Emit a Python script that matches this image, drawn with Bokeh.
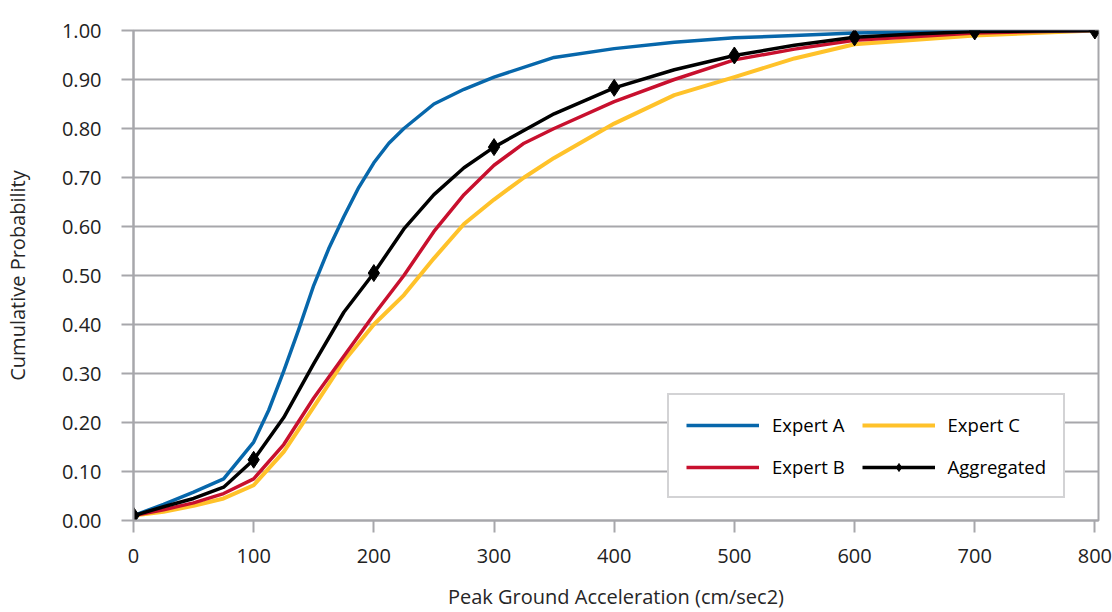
from bokeh.plotting import figure
from bokeh.models import Legend, LegendItem, FixedTicker, NumeralTickFormatter, Range1d
from bokeh.embed import file_html
from bokeh.resources import INLINE

# ---- data ----
expert_a_x = [0, 25, 50, 75, 100, 112.5, 125, 137.5, 150, 162.5, 175, 187.5, 200, 212.5, 225,
              250, 275, 300, 350, 400, 450, 500, 550, 600, 700, 800]
expert_a_y = [0.01, 0.033, 0.058, 0.085, 0.16, 0.225, 0.305, 0.39, 0.48, 0.555, 0.62, 0.68, 0.73, 0.77, 0.80,
              0.85, 0.88, 0.905, 0.945, 0.963, 0.976, 0.985, 0.99, 0.995, 0.999, 1.0]

expert_b_x = [0, 25, 50, 75, 100, 125, 150, 175, 200, 225, 250, 275, 300, 325, 350, 400, 450, 500, 550, 600, 700, 800]
expert_b_y = [0.01, 0.022, 0.036, 0.055, 0.085, 0.155, 0.25, 0.335, 0.42, 0.50, 0.59, 0.665, 0.725, 0.77, 0.80,
              0.855, 0.90, 0.94, 0.962, 0.98, 0.995, 1.0]

expert_c_x = [0, 25, 50, 75, 100, 125, 150, 175, 200, 225, 250, 275, 300, 325, 350, 400, 450, 500, 550, 600, 700, 800]
expert_c_y = [0.01, 0.018, 0.03, 0.045, 0.072, 0.14, 0.232, 0.325, 0.40, 0.46, 0.535, 0.605, 0.655, 0.70, 0.74,
              0.81, 0.868, 0.905, 0.943, 0.972, 0.99, 1.0]

aggregated_x = [0, 25, 50, 75, 100, 125, 150, 175, 200, 225, 250, 275, 300, 350, 400, 450, 500, 550, 600,
                650, 700, 750, 800]
aggregated_y = [0.01, 0.028, 0.045, 0.068, 0.124, 0.21, 0.32, 0.425, 0.505, 0.595, 0.665, 0.72, 0.762, 0.83,
                0.883, 0.92, 0.949, 0.97, 0.986, 0.993, 0.998, 0.999, 1.0]

marker_x = [0, 100, 200, 300, 400, 500, 600, 700, 800]
marker_y = [0.01, 0.124, 0.505, 0.762, 0.883, 0.949, 0.986, 0.998, 1.0]

x_ticks = [0, 100, 200, 300, 400, 500, 600, 700, 800]
y_ticks = [0.0, 0.1, 0.2, 0.3, 0.4, 0.5, 0.6, 0.7, 0.8, 0.9, 1.0]

# ---- styling ----
GRAY = "#A7A7AB"
FONT = "Open Sans"
BLUE = "#0767AB"
RED = "#C8102E"
YELLOW = "#FFC22A"

p = figure(width=1112, height=612, output_backend="svg", toolbar_location=None,
           x_range=Range1d(0, 803), y_range=Range1d(0, 1.0),
           min_border_left=133, min_border_right=14, min_border_top=30, min_border_bottom=92)

p.background_fill_color = "white"
p.border_fill_color = "white"
p.outline_line_color = GRAY
p.outline_line_width = 2

p.xgrid.grid_line_color = None
p.ygrid.grid_line_color = GRAY
p.ygrid.grid_line_width = 2
p.ygrid.ticker = FixedTicker(ticks=y_ticks)

p.xaxis.ticker = FixedTicker(ticks=x_ticks)
p.yaxis.ticker = FixedTicker(ticks=y_ticks)
p.yaxis.formatter = NumeralTickFormatter(format="0.00")

for ax in (p.xaxis[0], p.yaxis[0]):
    ax.axis_line_color = GRAY
    ax.axis_line_width = 2
    ax.major_tick_line_color = GRAY
    ax.major_tick_line_width = 2
    ax.major_tick_out = 12
    ax.major_tick_in = 0
    ax.minor_tick_line_color = None
    ax.major_label_text_font = FONT
    ax.major_label_text_font_size = "20px"
    ax.major_label_text_color = "#222222"
    ax.axis_label_text_font = FONT
    ax.axis_label_text_font_size = "20px"
    ax.axis_label_text_font_style = "normal"
    ax.axis_label_text_color = "#262626"

p.xaxis.axis_label = "Peak Ground Acceleration (cm/sec2)"
p.yaxis.axis_label = "Cumulative Probability"
p.xaxis.major_label_standoff = 16
p.yaxis.major_label_standoff = 20
p.xaxis.axis_label_standoff = 17
p.yaxis.axis_label_standoff = 28

r_c = p.line(expert_c_x, expert_c_y, line_color=YELLOW, line_width=4, line_join="round")
r_b = p.line(expert_b_x, expert_b_y, line_color=RED, line_width=3.5, line_join="round")
r_a = p.line(expert_a_x, expert_a_y, line_color=BLUE, line_width=3.5, line_join="round")
r_g = p.line(aggregated_x, aggregated_y, line_color="black", line_width=3.5, line_join="round")
r_m = p.scatter(marker_x, marker_y, marker="diamond", size=17,
                fill_color="black", line_color="black")

legend = Legend(items=[
    LegendItem(label="Expert A", renderers=[r_a]),
    LegendItem(label="Expert B", renderers=[r_b]),
    LegendItem(label="Expert C", renderers=[r_c]),
    LegendItem(label="Aggregated", renderers=[r_g, r_m]),
], ncols=2, orientation="vertical", location=(534, 22))
legend.label_text_font = FONT
legend.label_text_font_size = "18.5px"
legend.label_text_color = "black"
legend.glyph_width = 73
legend.glyph_height = 20
legend.label_standoff = 13
legend.spacing = 17
legend.padding = 17
legend.margin = 0
legend.border_line_color = GRAY
legend.border_line_width = 2
legend.background_fill_color = "white"
legend.background_fill_alpha = 1.0
p.add_layout(legend)

open("out.html", "w").write(file_html(p, INLINE))
